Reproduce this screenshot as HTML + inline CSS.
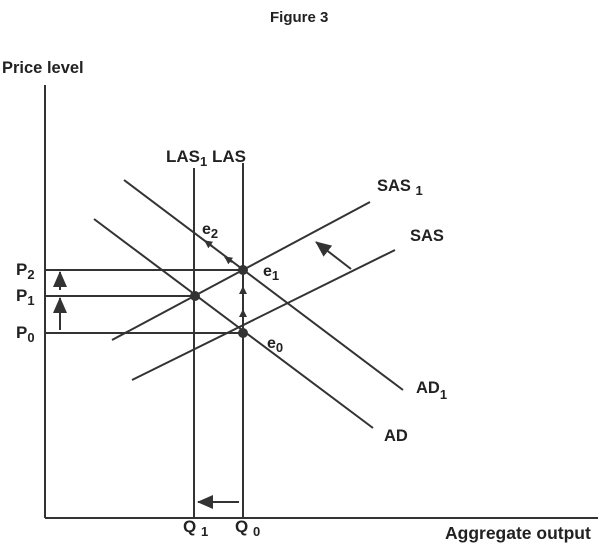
<!DOCTYPE html><html><head><style>body{margin:0;background:#fff}svg{display:block}text{font-family:"Liberation Sans",sans-serif;font-weight:bold;fill:#222}</style></head><body>
<svg width="600" height="544" xmlns="http://www.w3.org/2000/svg">
<defs><marker id="a" markerWidth="8" markerHeight="8" refX="7" refY="4" orient="auto" markerUnits="userSpaceOnUse"><path d="M0,0L8,4L0,8z" fill="#333"/></marker>
<marker id="b" markerWidth="16" markerHeight="14" refX="15" refY="7" orient="auto" markerUnits="userSpaceOnUse"><path d="M0,0L16,7L0,14z" fill="#333"/></marker></defs>
<g stroke="#333" stroke-width="2" fill="none">
<line x1="45" y1="85" x2="45" y2="518"/><line x1="45" y1="518" x2="598" y2="518"/>
<line x1="194" y1="168" x2="194" y2="518"/><line x1="243" y1="163" x2="243" y2="518"/>
<line x1="45" y1="270" x2="243" y2="270"/><line x1="45" y1="296" x2="195" y2="296"/><line x1="45" y1="333" x2="243" y2="333"/>
<line x1="124" y1="180" x2="403" y2="390"/><line x1="94" y1="219" x2="373" y2="428"/>
<line x1="112" y1="340" x2="370" y2="202"/><line x1="132" y1="380" x2="395" y2="250"/>
<line x1="351" y1="269" x2="316" y2="242" marker-end="url(#b)"/>
<line x1="239" y1="502" x2="198" y2="502" marker-end="url(#b)"/>
<line x1="60" y1="290" x2="60" y2="272" marker-end="url(#b)"/>
<line x1="60" y1="330" x2="60" y2="298" marker-end="url(#b)"/>
<line x1="243" y1="300" x2="243" y2="287" marker-end="url(#a)"/>
<line x1="243" y1="325" x2="243" y2="310" marker-end="url(#a)"/>
<line x1="232" y1="262" x2="225" y2="257" marker-end="url(#a)"/>
<line x1="212" y1="246" x2="205" y2="241" marker-end="url(#a)"/>
</g>
<g fill="#333"><circle cx="243" cy="270" r="5"/><circle cx="195" cy="296" r="5"/><circle cx="243" cy="333" r="5"/></g>
<text x="270" y="22" font-size="15">Figure 3</text>
<text x="2" y="73" font-size="16.5">Price level</text>
<text x="445" y="539" font-size="17.5">Aggregate output</text>
<text x="166" y="162" font-size="17">LAS<tspan font-size="13" dy="4">1</tspan><tspan dy="-4"> LAS</tspan></text>
<text x="202" y="234" font-size="16">e<tspan font-size="13" dy="4">2</tspan></text>
<text x="263" y="276" font-size="16">e<tspan font-size="13" dy="4">1</tspan></text>
<text x="267" y="348" font-size="16">e<tspan font-size="13" dy="4">0</tspan></text>
<text x="16" y="275" font-size="17">P<tspan font-size="13" dy="4">2</tspan></text>
<text x="16" y="301" font-size="17">P<tspan font-size="13" dy="4">1</tspan></text>
<text x="16" y="338" font-size="17">P<tspan font-size="13" dy="4">0</tspan></text>
<text x="183" y="532" font-size="17">Q <tspan font-size="13" dy="4">1</tspan></text>
<text x="235" y="532" font-size="17">Q <tspan font-size="13" dy="4">0</tspan></text>
<text x="377" y="191" font-size="16.5">SAS <tspan font-size="13" dy="4">1</tspan></text>
<text x="410" y="241" font-size="16.5">SAS</text>
<text x="416" y="393" font-size="16.5">AD<tspan font-size="13" dy="6">1</tspan></text>
<text x="384" y="441" font-size="16.5">AD</text>
</svg></body></html>
